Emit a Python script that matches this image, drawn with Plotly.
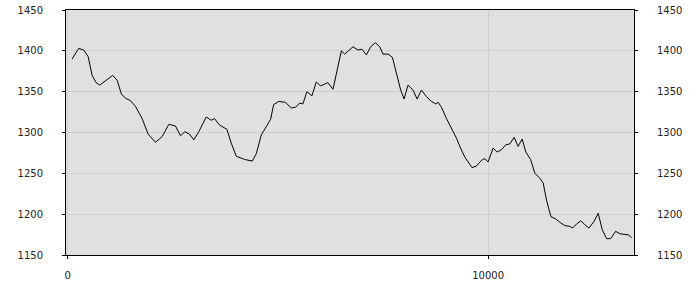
import plotly.graph_objects as go

x_vals = [105, 262, 381, 486, 581, 676, 762, 938, 1071, 1176, 1279, 1374, 1493, 1612, 1771, 1914,
          2088, 2248, 2405, 2564, 2683, 2786, 2898, 3000, 3119, 3295, 3414, 3493, 3612, 3786, 3890,
          4010, 4207, 4390, 4486, 4605, 4724, 4826, 4898, 5017, 5176, 5319, 5421, 5517, 5595, 5690,
          5810, 5914, 6010, 6190, 6310, 6510, 6588, 6786, 6905, 7000, 7105, 7207, 7319, 7421, 7500,
          7619, 7724, 7819, 7921, 8000, 8095, 8214, 8310, 8414, 8533, 8652, 8755, 8810, 8890, 9010,
          9129, 9248, 9343, 9445, 9524, 9619, 9724, 9843, 9921, 10000, 10119, 10214, 10319, 10421,
          10517, 10619, 10714, 10810, 10898, 11010, 11112, 11231, 11310, 11390, 11493, 11612, 11707,
          11826, 11945, 12010, 12105, 12207, 12302, 12398, 12517, 12619, 12714, 12819, 12914, 13033,
          13136, 13255, 13343, 13414]
y_vals = [1390, 1403, 1401, 1393, 1370, 1361, 1358, 1365, 1370, 1364, 1347, 1342, 1339, 1332, 1317, 1298,
          1288, 1295, 1310, 1308, 1296, 1301, 1298, 1291, 1301, 1319, 1315, 1317, 1309, 1304, 1287,
          1271, 1267, 1265, 1274, 1297, 1307, 1316, 1334, 1338, 1337, 1330, 1331, 1336, 1335, 1350,
          1345, 1362, 1357, 1361, 1353, 1400, 1396, 1405, 1401, 1402, 1395, 1405, 1410, 1405, 1396,
          1396, 1392, 1372, 1352, 1341, 1358, 1352, 1341, 1352, 1344, 1338, 1335, 1337, 1331, 1317,
          1305, 1293, 1281, 1270, 1264, 1257, 1259, 1266, 1268, 1264, 1281, 1276, 1279, 1285,
          1286, 1294, 1283, 1292, 1276, 1267, 1250, 1244, 1238, 1217, 1197, 1194, 1190,
          1186, 1185, 1183, 1188, 1192, 1187, 1183, 1191, 1201, 1181, 1170, 1170, 1179,
          1176, 1175, 1174.5, 1171]

x_ticks = [0, 10000]
y_ticks = [1150, 1200, 1250, 1300, 1350, 1400, 1450]
x_range = [-40, 13470]
y_range = [1150, 1450]

font = dict(family="DejaVu Sans", size=10, color="#222222")

fig = go.Figure()
fig.add_trace(go.Scatter(x=x_vals, y=y_vals, mode="lines",
                         line=dict(color="black", width=1), showlegend=False))
fig.add_trace(go.Scatter(x=x_vals, y=y_vals, mode="lines", yaxis="y2",
                         line=dict(color="rgba(0,0,0,0)", width=0), showlegend=False,
                         hoverinfo="skip"))

fig.update_layout(
    width=700, height=300,
    margin=dict(l=66, r=66, t=10, b=45),
    paper_bgcolor="white", plot_bgcolor="#e0e0e0",
    font=font,
    xaxis=dict(range=x_range, tickvals=x_ticks, ticktext=[str(v) for v in x_ticks],
               showgrid=True, gridcolor="#cfcfcf", zeroline=False, automargin=False,
               showline=True, linecolor="black", linewidth=1, mirror=True,
               ticks="outside", ticklen=3, tickcolor="black", ticklabelstandoff=8,
               tickfont=font),
    yaxis=dict(range=y_range, tickvals=y_ticks, showgrid=True, gridcolor="#cfcfcf",
               zeroline=False, showline=True, linecolor="black", linewidth=1, mirror=True,
               automargin=False,
               ticks="outside", ticklen=3, tickcolor="black", ticklabelstandoff=17,
               tickfont=font),
    yaxis2=dict(range=y_range, tickvals=y_ticks, overlaying="y", side="right",
                anchor="x", showgrid=False, zeroline=False, showline=False, automargin=False,
                ticks="outside", ticklen=3, tickcolor="black", ticklabelstandoff=17,
                tickfont=font),
)

fig.write_html("out.html")
